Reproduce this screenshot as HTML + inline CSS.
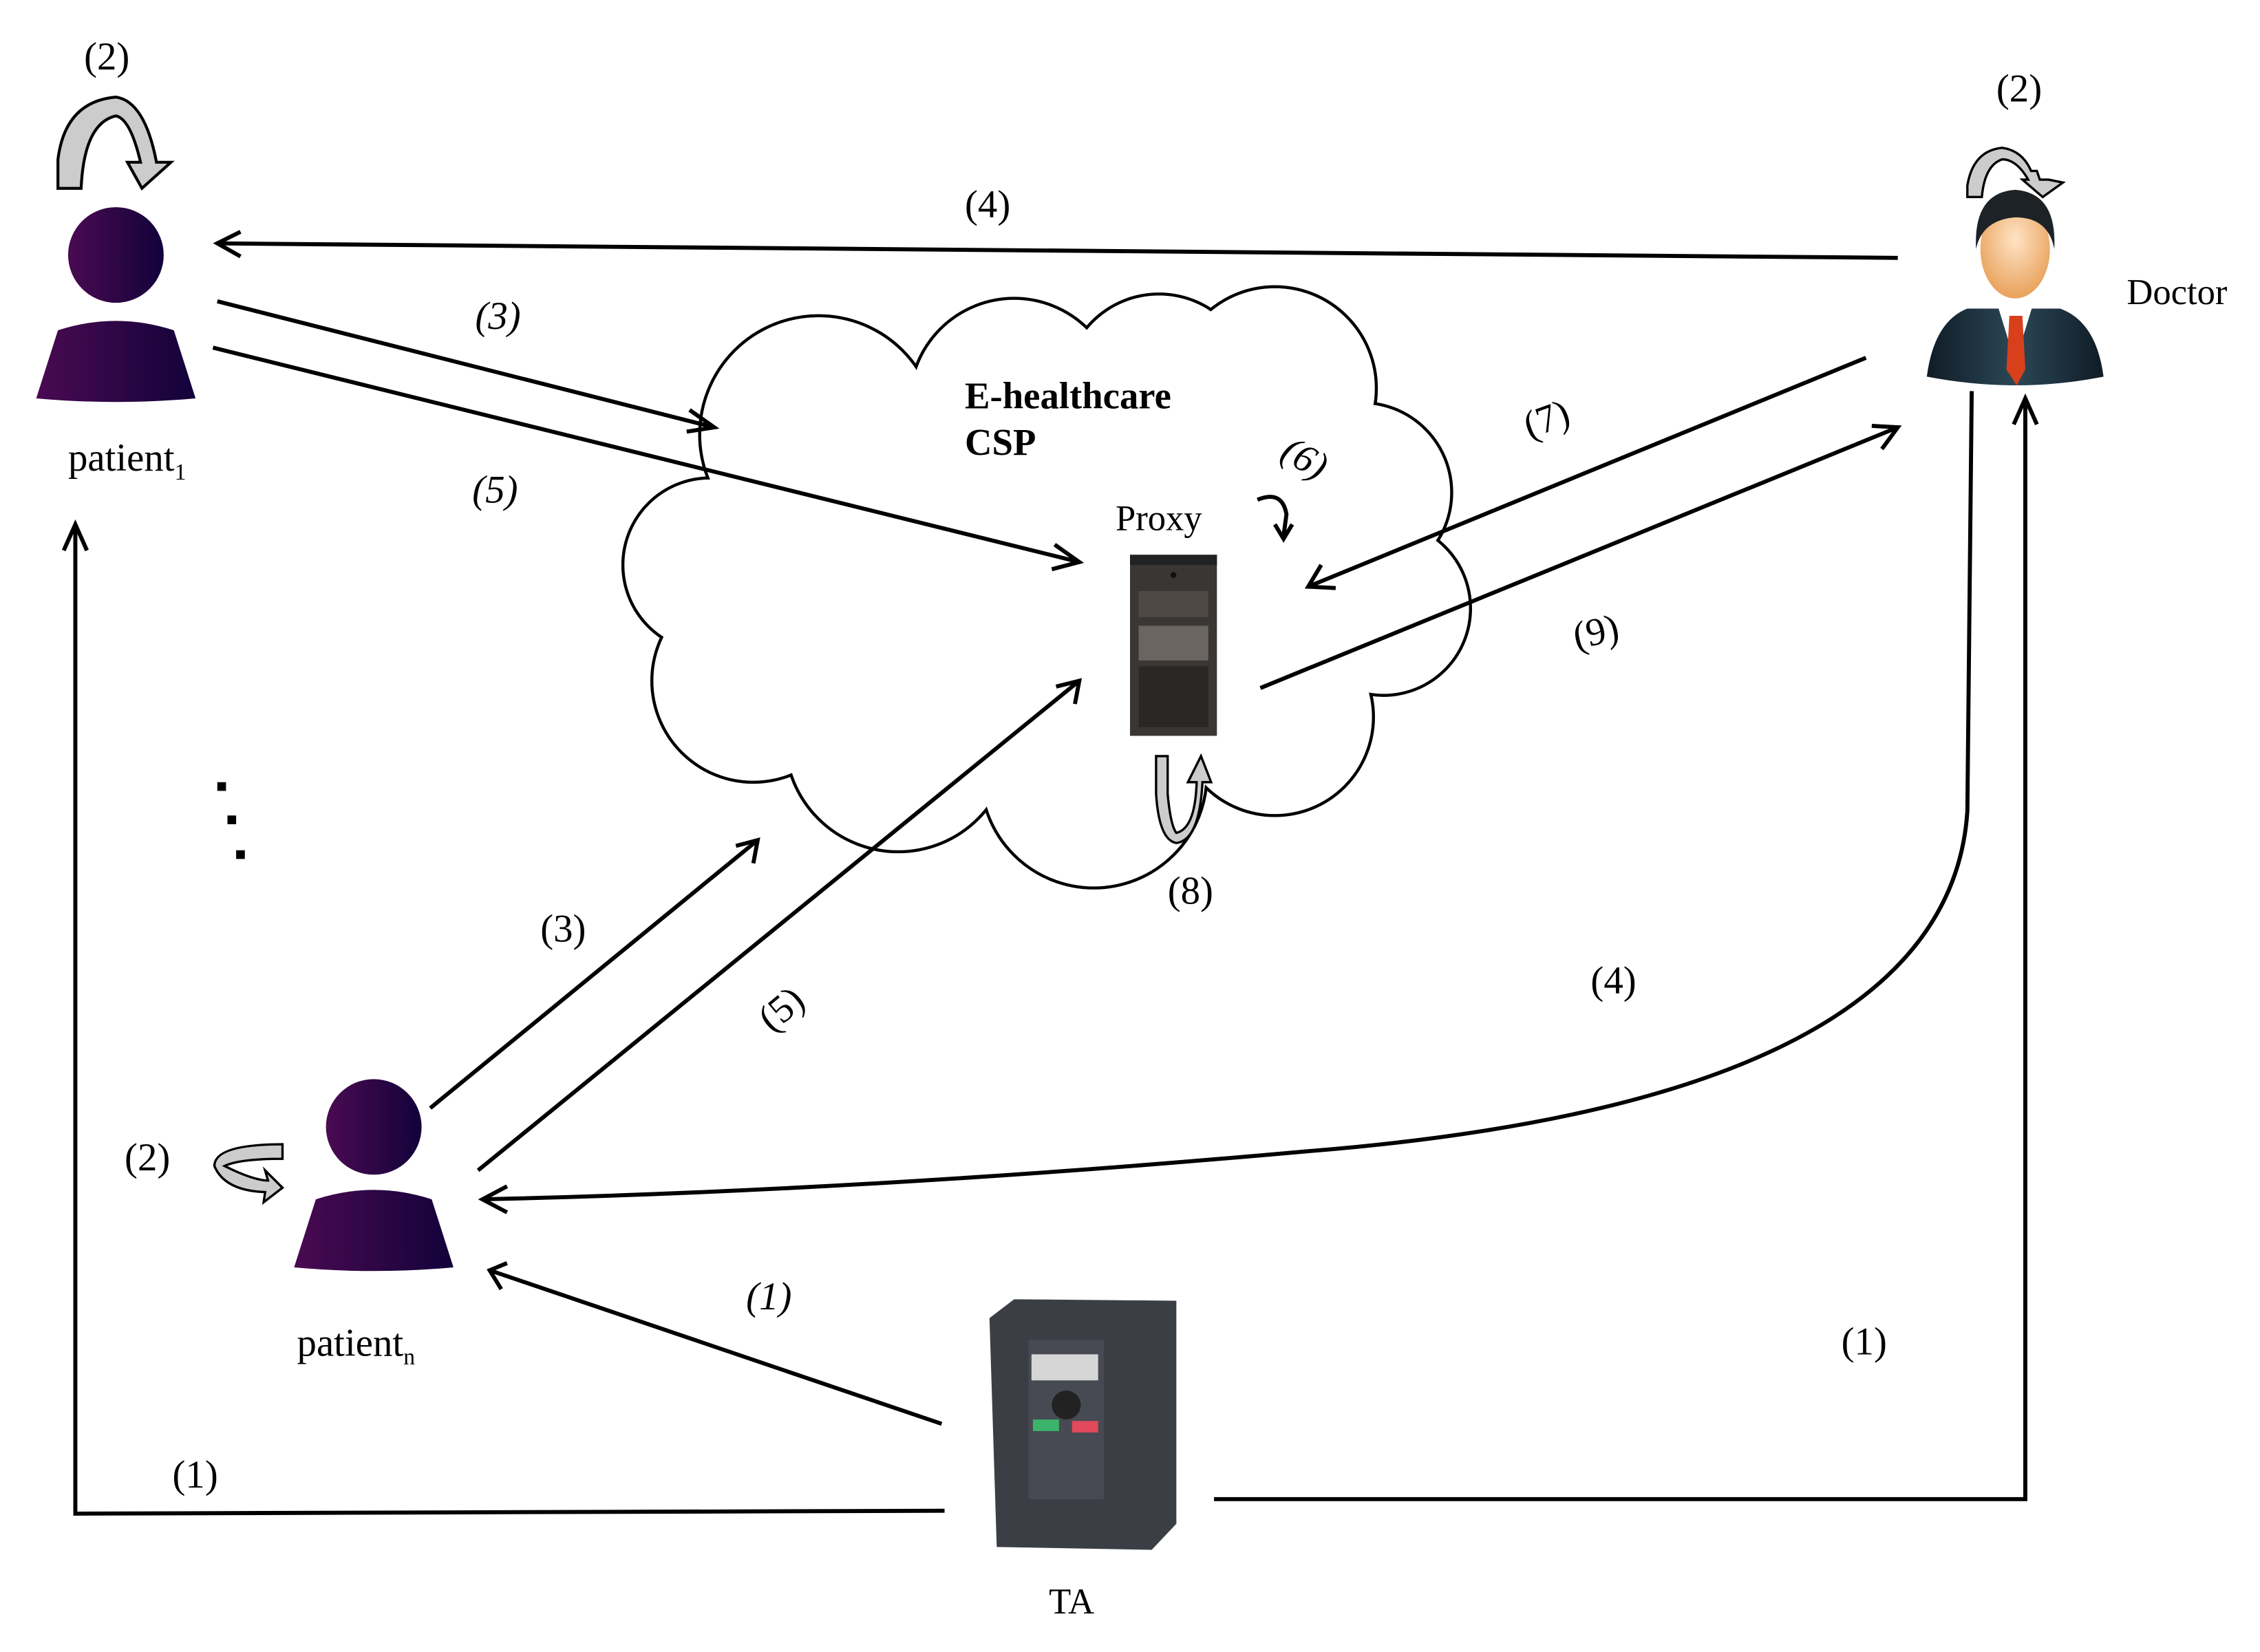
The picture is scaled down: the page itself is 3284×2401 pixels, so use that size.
<!DOCTYPE html>
<html><head><meta charset="utf-8">
<style>
html,body{margin:0;padding:0;background:#fff;}
svg{display:block;}
text{font-family:"Liberation Serif",serif;fill:#000;}
</style></head>
<body>
<svg width="3284" height="2401" viewBox="0 0 1560 1140.5" xmlns="http://www.w3.org/2000/svg">
<defs>
<linearGradient id="pg" x1="0" x2="1" y1="0" y2="0">
<stop offset="0" stop-color="#4a0a52"/><stop offset="1" stop-color="#12023a"/>
</linearGradient>
<linearGradient id="suit" x1="0" x2="1"><stop offset="0" stop-color="#0f1c26"/><stop offset="0.5" stop-color="#2c4756"/><stop offset="1" stop-color="#0f1c26"/></linearGradient>
<radialGradient id="face" cx="0.5" cy="0.4" r="0.6"><stop offset="0" stop-color="#ffe3c4"/><stop offset="1" stop-color="#e9a25c"/></radialGradient>
</defs>

<!-- Cloud -->
<g stroke="#000" stroke-width="2.2" fill="#fff">
<circle cx="565" cy="300" r="82"/>
<circle cx="700" cy="278" r="72"/>
<circle cx="800" cy="268" r="65"/>
<circle cx="880" cy="268" r="70"/>
<circle cx="940" cy="340" r="62"/>
<circle cx="955" cy="420" r="60"/>
<circle cx="880" cy="495" r="68"/>
<circle cx="755" cy="535" r="78"/>
<circle cx="620" cy="510" r="78"/>
<circle cx="520" cy="470" r="70"/>
<circle cx="490" cy="390" r="60"/>
</g>
<g fill="#fff">
<circle cx="565" cy="300" r="81"/>
<circle cx="700" cy="278" r="71"/>
<circle cx="800" cy="268" r="64"/>
<circle cx="880" cy="268" r="69"/>
<circle cx="940" cy="340" r="61"/>
<circle cx="955" cy="420" r="59"/>
<circle cx="880" cy="495" r="67"/>
<circle cx="755" cy="535" r="77"/>
<circle cx="620" cy="510" r="77"/>
<circle cx="520" cy="470" r="69"/>
<circle cx="490" cy="390" r="59"/>
<rect x="520" y="300" width="420" height="220"/>
</g>

<text x="666" y="282" font-size="26" font-weight="bold">E-healthcare</text>
<text x="666" y="314" font-size="26" font-weight="bold">CSP</text>
<text x="770" y="366" font-size="25">Proxy</text>

<!-- server -->
<rect x="780" y="383" width="60" height="125" fill="#3a3633"/>
<rect x="780" y="383" width="60" height="7" fill="#222"/>
<rect x="786" y="408" width="48" height="18" fill="#4e4944"/>
<rect x="786" y="432" width="48" height="24" fill="#6a6560"/>
<rect x="786" y="460" width="48" height="42" fill="#2a2724"/>
<circle cx="810" cy="397" r="2" fill="#111"/>

<!-- patient1 -->
<circle cx="80" cy="176" r="33" fill="url(#pg)"/>
<path d="M25,275 L40,228 Q80,215 120,228 L135,275 Q80,280 25,275Z" fill="url(#pg)"/>
<text x="47" y="325" font-size="27">patient<tspan font-size="16" dy="6">1</tspan></text>
<text x="58" y="48" font-size="27">(2)</text>
<path d="M40,130 L40,110 Q45,70 80,67 Q100,70 108,112 L118,112 L98,130 L88,112 L97,112 Q90,82 80,80 Q58,85 56,130 Z" fill="#ccc" stroke="#000" stroke-width="2"/>

<!-- patientN -->
<circle cx="258" cy="778" r="33" fill="url(#pg)"/>
<path d="M203,875 L218,828 Q258,815 298,828 L313,875 Q258,880 203,875Z" fill="url(#pg)"/>
<text x="205" y="936" font-size="27">patient<tspan font-size="16" dy="6">n</tspan></text>
<text x="86" y="808" font-size="27">(2)</text>
<path d="M195,790 L195,800 Q165,800 155,805 Q175,815 185,815 L183,808 L195,820 L182,830 L183,823 Q155,822 148,805 Q148,790 195,790Z" fill="#ccc" stroke="#000" stroke-width="1.6"/>

<!-- dots -->
<rect x="150" y="540" width="6" height="6" fill="#000"/>
<rect x="157" y="563" width="6" height="6" fill="#000"/>
<rect x="163" y="587" width="6" height="6" fill="#000"/>

<!-- Doctor -->
<path d="M1330,260 Q1335,222 1358,213 L1422,213 Q1447,222 1452,260 Q1392,272 1330,260Z" fill="url(#suit)"/>
<path d="M1378,208 L1391,250 L1404,208Z" fill="#fff"/>
<path d="M1387,218 L1396,218 L1398,255 L1392,266 L1385,255Z" fill="#d8401c"/>
<ellipse cx="1391" cy="172" rx="24" ry="34" fill="url(#face)"/>
<path d="M1364,172 Q1362,133 1391,131 Q1420,133 1418,172 Q1414,150 1391,150 Q1368,152 1364,172Z" fill="#1d2226"/>
<text x="1468" y="210" font-size="25">Doctor</text>
<text x="1378" y="70" font-size="27">(2)</text>
<path d="M1358,136 L1358,128 Q1362,104 1382,102 Q1396,104 1402,118 L1406,118 L1408,124 L1414,124 L1424,126 L1410,136 L1396,124 L1400,124 Q1392,110 1382,110 Q1370,114 1368,136Z" fill="#ccc" stroke="#000" stroke-width="1.6"/>

<!-- TA device -->
<path d="M683,910 L700,897 L812,898 L812,1052 L795,1070 L688,1068 Z" fill="#3b3e45"/>
<rect x="710" y="925" width="52" height="110" fill="#474a52"/>
<rect x="712" y="935" width="46" height="18" fill="#d6d6d6"/>
<circle cx="736" cy="970" r="10" fill="#222"/>
<rect x="713" y="980" width="18" height="8" fill="#3bb36a"/>
<rect x="740" y="981" width="18" height="8" fill="#e04a5a"/>
<text x="724" y="1114" font-size="25">TA</text>

<!-- connectors -->
<g stroke="#000" stroke-width="2.8" fill="none" stroke-linecap="butt">
<line x1="1310" y1="178" x2="150" y2="168"/>
<polyline points="166,160 150,168 166,177"/>
<line x1="150" y1="208" x2="493" y2="295"/>
<polyline points="476,283 493,295 474,298"/>
<line x1="147" y1="240" x2="745" y2="388"/>
<polyline points="728,376 745,388 726,393"/>
<line x1="1288" y1="247" x2="903" y2="405"/>
<polyline points="912,390 903,405 922,406"/>
<line x1="870" y1="475" x2="1310" y2="295"/>
<polyline points="1292,294 1310,295 1299,310"/>
<line x1="297" y1="765" x2="523" y2="580"/>
<polyline points="508,584 523,580 520,596"/>
<line x1="330" y1="808" x2="745" y2="470"/>
<polyline points="729,474 745,470 742,486"/>
<path d="M1361,270 L1358,560 Q1345,760 900,795 Q600,822 333,828"/>
<polyline points="350,819 333,828 350,837"/>
<line x1="650" y1="983" x2="338" y2="877"/>
<polyline points="350,872 338,877 346,890"/>
<polyline points="652,1043 52,1045 52,362"/>
<polyline points="44,380 52,362 60,380"/>
<polyline points="838,1035 1398,1035 1398,275"/>
<polyline points="1390,293 1398,275 1406,293"/>
<path d="M868,345 Q885,338 888,355 L886,370"/>
<polyline points="880,362 886,372 892,362"/>
</g>
<path d="M798,522 L798,548 Q800,580 812,582 Q828,580 830,540 L836,540 L829,522 L820,540 L826,540 Q825,572 812,575 Q808,570 806,548 L806,522Z" fill="#ccc" stroke="#000" stroke-width="1.6"/>

<!-- labels -->
<g font-size="27">
<text x="666" y="150">(4)</text>
<text x="328" y="227" font-style="italic">(3)</text>
<text x="326" y="347" font-style="italic">(5)</text>
<text x="1052" y="298" transform="rotate(-20 1068 290)">(7)</text>
<text x="1086" y="445" transform="rotate(-12 1102 437)">(9)</text>
<text x="884" y="325" transform="rotate(30 900 318)" font-style="italic">(6)</text>
<text x="806" y="624">(8)</text>
<text x="373" y="650">(3)</text>
<text x="524" y="705" transform="rotate(-40 540 697)">(5)</text>
<text x="1098" y="686">(4)</text>
<text x="515" y="904" font-style="italic">(1)</text>
<text x="119" y="1027">(1)</text>
<text x="1271" y="935">(1)</text>
</g>
</svg>
</body></html>
